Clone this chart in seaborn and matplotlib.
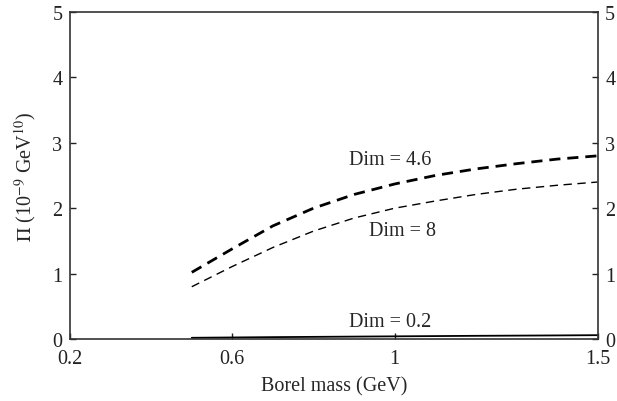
import numpy as np
import pandas as pd
import matplotlib
matplotlib.use("Agg")
import matplotlib.pyplot as plt
import seaborn as sns

# values
borel = [0.5, 0.6, 0.7, 0.8, 0.9, 1.0, 1.1, 1.2, 1.3, 1.4, 1.5]
pi_dim46 = [1.02, 1.38, 1.73, 2.00, 2.21, 2.37, 2.50, 2.60, 2.68, 2.75, 2.80]
pi_dim8 = [0.80, 1.11, 1.40, 1.65, 1.85, 2.00, 2.11, 2.21, 2.29, 2.35, 2.40]
pi_dim02 = [0.020, 0.025, 0.030, 0.034, 0.038, 0.042, 0.046, 0.050, 0.053, 0.056, 0.060]

xticks = [0.2, 0.6, 1, 1.5]
xticklabels = ['0.2', '0.6', '1', '1.5']
yticks = [0, 1, 2, 3, 4, 5]

sns.set_style("ticks")
plt.rcParams['font.family'] = ['Liberation Serif', 'DejaVu Serif']
plt.rcParams['mathtext.fontset'] = 'stix'

df = pd.DataFrame({
    'Borel': borel * 3,
    'Pi': pi_dim46 + pi_dim8 + pi_dim02,
    'Dim': ['4.6'] * len(borel) + ['8'] * len(borel) + ['0.2'] * len(borel),
})

fig = plt.figure(figsize=(6.17, 4.02), dpi=100)
ax = fig.add_axes([0.1135, 0.154, 0.855, 0.814])

styles = {'4.6': dict(lw=2.0, dashes=(4, 2.5)),
          '8': dict(lw=1.0, dashes=(6, 4)),
          '0.2': dict(lw=1.3, dashes=())}
for dim, sty in styles.items():
    sub = df[df['Dim'] == dim]
    sns.lineplot(data=sub, x='Borel', y='Pi', ax=ax, color='black',
                 lw=sty['lw'], legend=False)
    if sty['dashes']:
        ax.lines[-1].set_dashes(sty['dashes'])

fs = 14.5
ax.set_xlim(0.2, 1.5)
ax.set_ylim(0, 5)
ax.set_xticks(xticks)
ax.set_xticklabels(xticklabels)
ax.set_yticks(yticks)
ax.tick_params(direction='in', length=4, width=1, labelsize=fs, colors='#222222',
               left=True, right=True, labelright=True, top=False)
ax.tick_params(axis='x', pad=7)
ax.tick_params(axis='y', pad=5.5)
for s in ax.spines.values():
    s.set_linewidth(1.2)
    s.set_color('#333333')

ax.set_xlabel('Borel mass (GeV)', fontsize=fs, labelpad=6)
ax.set_ylabel(r'$\Pi$ (10$^{-9}$ GeV$^{10}$)', fontsize=fs, labelpad=10)

ax.text(0.99, 2.75, 'Dim = 4.6', ha='center', va='center', fontsize=fs)
ax.text(1.02, 1.66, 'Dim = 8', ha='center', va='center', fontsize=fs)
ax.text(0.99, 0.27, 'Dim = 0.2', ha='center', va='center', fontsize=fs)

fig.savefig('out.png', dpi=100)
